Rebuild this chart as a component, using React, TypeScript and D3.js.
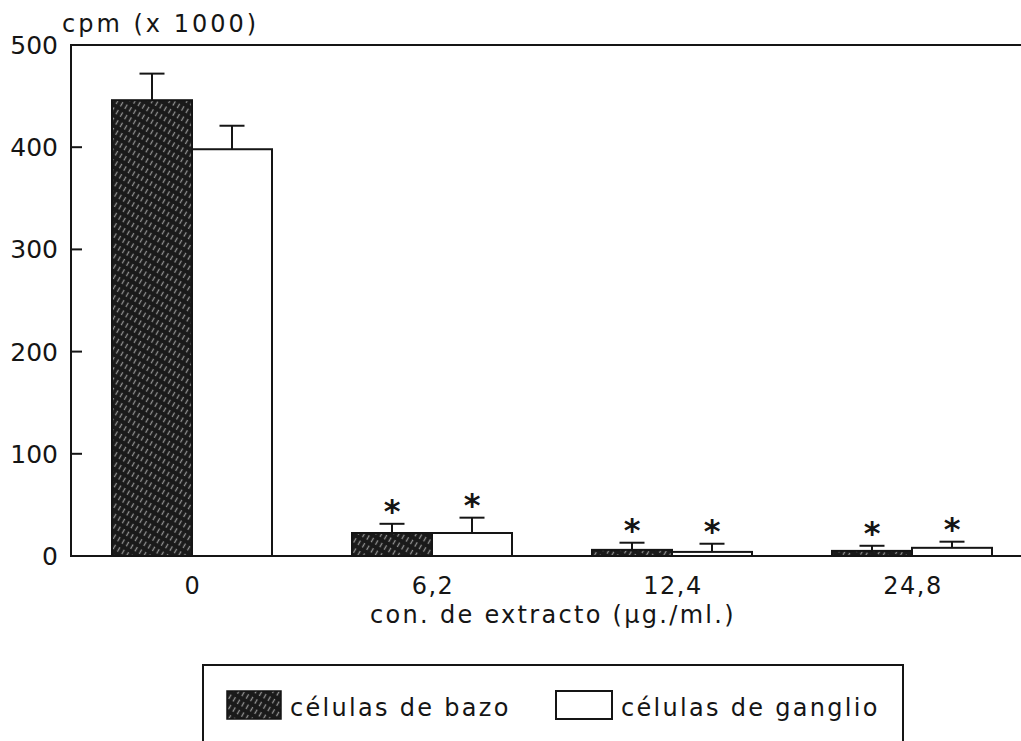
import React from "react";
import * as d3 from "d3";

const categories = ["0", "6,2", "12,4", "24,8"];
const seriesNames = ["células de bazo", "células de ganglio"];
const bazoValues = [446, 22.5, 6, 5];
const bazoErrors = [26, 9, 7, 5];
const gangValues = [398, 22.5, 4, 8];
const gangErrors = [23, 15, 8, 6];
const significant = [false, true, true, true];
const yTicks = [0, 100, 200, 300, 400, 500];

const W = 1021;
const H = 741;
const FONT = "'DejaVu Sans', sans-serif";

export default function App() {
  const x0 = d3.scaleBand<string>().domain(categories).range([72, 1032]);
  const x1 = d3.scaleBand<string>().domain(seriesNames).range([40, 200]);
  const y = d3.scaleLinear().domain([0, 500]).range([556, 45]);

  const series = [
    { name: seriesNames[0], values: bazoValues, errors: bazoErrors, fill: "url(#hatch)" },
    { name: seriesNames[1], values: gangValues, errors: gangErrors, fill: "#fff" },
  ];

  const ink = "#151515";

  return (
    <svg
      width={W}
      height={H}
      style={{ position: "absolute", left: 0, top: 0, background: "#fff" }}
    >
      <defs>
        <pattern
          id="hatch"
          patternUnits="userSpaceOnUse"
          width={5}
          height={9}
          patternTransform="rotate(30)"
        >
          <rect width={5} height={9} fill="#1a1a1a" />
          <line x1={2.5} y1={0} x2={2.5} y2={9} stroke="#929292" strokeWidth={1.3} strokeDasharray="5 4" />
        </pattern>
      </defs>

      {/* frame: top line */}
      <line x1={71} x2={W} y1={y(500)} y2={y(500)} stroke={ink} strokeWidth={2} />

      {/* bars */}
      {series.map((s) => (
        <g key={s.name}>
          {categories.map((c, i) => {
            const bx = (x0(c) as number) + (x1(s.name) as number);
            const bw = x1.bandwidth();
            const top = y(s.values[i]);
            const cx = bx + bw / 2;
            const ey = y(s.values[i] + s.errors[i]);
            return (
              <g key={c}>
                <rect
                  x={bx}
                  y={top}
                  width={bw}
                  height={y(0) - top}
                  fill={s.fill}
                  stroke={ink}
                  strokeWidth={2}
                />
                <line x1={cx} x2={cx} y1={top} y2={ey} stroke={ink} strokeWidth={2} />
                <line x1={cx - 12.5} x2={cx + 12.5} y1={ey} y2={ey} stroke={ink} strokeWidth={2} />
                {significant[i] && (
                  <text
                    x={cx}
                    y={ey - 2}
                    textAnchor="middle"
                    fontFamily={FONT}
                    fontSize={32}
                    fontWeight="bold"
                    fill={ink}
                  >
                    *
                  </text>
                )}
              </g>
            );
          })}
        </g>
      ))}

      {/* axes */}
      <line x1={71} x2={71} y1={y(500) - 1} y2={y(0) + 1} stroke={ink} strokeWidth={2} />
      <line x1={70} x2={W} y1={y(0)} y2={y(0)} stroke={ink} strokeWidth={2} />
      {yTicks.map((t) => (
        <g key={t}>
          {t > 0 && t < 500 && (
            <line x1={71} x2={82} y1={y(t)} y2={y(t)} stroke={ink} strokeWidth={2} />
          )}
          <text
            x={58}
            y={y(t)}
            dy="0.36em"
            textAnchor="end"
            fontFamily={FONT}
            fontSize={25}
            fill={ink}
          >
            {t}
          </text>
        </g>
      ))}
      <text x={62} y={32} fontFamily={FONT} fontSize={24} letterSpacing={3} fill={ink}>
        cpm (x 1000)
      </text>

      {categories.map((c) => (
        <text
          key={c}
          x={(x0(c) as number) + x0.bandwidth() / 2 + 1}
          y={594}
          textAnchor="middle"
          fontFamily={FONT}
          fontSize={24}
          letterSpacing={1.5}
          fill={ink}
        >
          {c}
        </text>
      ))}
      <text
        x={553}
        y={623}
        textAnchor="middle"
        fontFamily={FONT}
        fontSize={24}
        letterSpacing={2.3}
        fill={ink}
      >
        con. de extracto (µg./ml.)
      </text>

      {/* legend */}
      <rect x={203} y={665} width={700} height={100} fill="none" stroke={ink} strokeWidth={2} />
      <rect x={227} y={691} width={54} height={28} fill="url(#hatch)" stroke={ink} strokeWidth={1.5} />
      <text x={290} y={716} fontFamily={FONT} fontSize={24} letterSpacing={2.3} fill={ink}>
        {seriesNames[0]}
      </text>
      <rect x={556} y={691} width={56} height={28} fill="#fff" stroke={ink} strokeWidth={2} />
      <text x={621} y={716} fontFamily={FONT} fontSize={24} letterSpacing={2.3} fill={ink}>
        {seriesNames[1]}
      </text>
    </svg>
  );
}
